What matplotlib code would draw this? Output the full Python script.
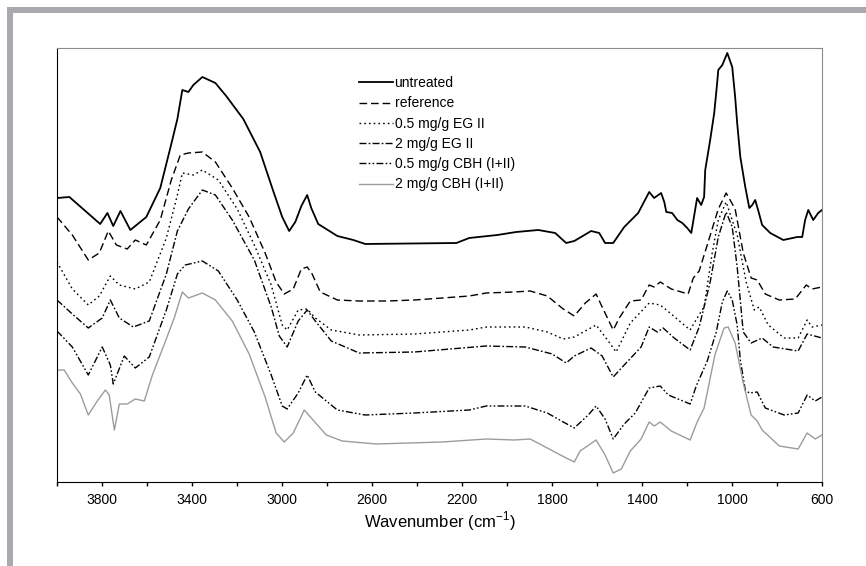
import matplotlib
matplotlib.use('Agg')
import matplotlib.pyplot as plt
from matplotlib.patches import Rectangle

plt.rcParams['font.family'] = ['Liberation Sans', 'DejaVu Sans']
plt.rcParams['mathtext.fontset'] = 'custom'
plt.rcParams['mathtext.rm'] = 'Liberation Sans'

# FTIR spectra, intensity in arbitrary units (curves offset for display)
wn_untreated = [4000, 3945, 3808, 3776, 3750, 3718, 3674, 3603, 3541, 3492, 3465, 3443, 3416, 3394,
                3354, 3296, 3248, 3172, 3097, 3039, 2999, 2968, 2941, 2914, 2888, 2870, 2839, 2754,
                2683, 2630, 2225, 2168, 2043, 1959, 1861, 1786, 1737, 1701, 1626, 1590, 1564, 1528,
                1479, 1417, 1368, 1346, 1315, 1301, 1292, 1266, 1243, 1221, 1199, 1181, 1155, 1137,
                1124, 1119, 1097, 1079, 1066, 1061, 1043, 1021, 999, 986, 977, 963, 941, 923, 910,
                897, 884, 866, 830, 772, 710, 688, 675, 661, 639, 617, 600]
untreated = [284, 285, 258, 269, 256, 271, 252, 265, 294, 338, 363, 392, 390, 397,
             405, 399, 386, 363, 330, 291, 265, 251, 260, 276, 287, 274, 258, 246,
             242, 238, 239, 244, 247, 250, 252, 249, 239, 241, 251, 249, 239, 239,
             255, 269, 290, 284, 289, 280, 270, 269, 262, 259, 254, 249, 284, 277,
             285, 312, 342, 369, 399, 412, 417, 429, 415, 385, 359, 325, 295, 274, 277,
             282, 272, 257, 249, 242, 245, 245, 262, 272, 262, 269, 272]

wn_reference = [4000, 3932, 3861, 3812, 3772, 3736, 3688, 3652, 3603, 3541, 3492, 3452, 3416, 3354,
                3296, 3221, 3146, 3075, 3026, 2990, 2950, 2914, 2888, 2866, 2830, 2754, 2657, 2532,
                2412, 2288, 2168, 2092, 1968, 1897, 1821, 1750, 1701, 1652, 1604, 1577, 1528, 1501,
                1452, 1404, 1368, 1346, 1319, 1270, 1195, 1172, 1146, 1110, 1061, 1026, 986, 950,
                915, 888, 852, 790, 719, 670, 644, 600]
reference = [265, 247, 222, 229, 251, 237, 233, 242, 237, 262, 302, 327, 329, 330,
             320, 294, 265, 229, 200, 188, 193, 213, 215, 208, 190, 182, 181, 181,
             182, 184, 186, 189, 190, 191, 186, 173, 166, 179, 188, 175, 152, 164,
             181, 182, 197, 195, 200, 193, 188, 204, 211, 237, 273, 289, 273, 229,
             204, 202, 188, 182, 183, 197, 193, 195]

wn_eg05 = [4000, 3932, 3861, 3812, 3763, 3723, 3652, 3590, 3514, 3465, 3443, 3394, 3354, 3283,
           3199, 3123, 3048, 2999, 2977, 2928, 2888, 2852, 2781, 2657, 2412, 2168, 2092, 1919,
           1821, 1750, 1701, 1604, 1550, 1515, 1452, 1368, 1319, 1270, 1186, 1155, 1124, 1088,
           1061, 1026, 977, 937, 901, 879, 839, 768, 706, 666, 644, 600]
eg05 = [220, 193, 177, 186, 206, 197, 193, 200, 244, 287, 309, 307, 312, 302,
        273, 237, 197, 157, 152, 172, 173, 164, 152, 147, 148, 152, 155, 155,
        150, 143, 145, 157, 141, 130, 159, 179, 177, 168, 152, 164, 175, 229,
        262, 280, 247, 200, 172, 175, 157, 144, 144, 162, 155, 157]

wn_eg2 = [4000, 3932, 3861, 3799, 3763, 3723, 3661, 3590, 3514, 3465, 3416, 3354, 3296, 3221,
          3123, 3048, 3012, 2977, 2928, 2888, 2852, 2781, 2657, 2412, 2092, 1919, 1799, 1737,
          1701, 1626, 1577, 1528, 1479, 1404, 1368, 1332, 1306, 1257, 1186, 1146, 1097, 1061,
          1026, 999, 977, 950, 915, 866, 817, 706, 666, 600]
eg2 = [182, 168, 154, 164, 182, 164, 155, 161, 208, 251, 273, 292, 287, 262,
       222, 175, 146, 135, 161, 172, 161, 141, 129, 130, 136, 135, 128, 119,
       126, 134, 126, 105, 117, 135, 155, 150, 154, 144, 132, 155, 200, 245,
       270, 255, 215, 150, 139, 144, 135, 131, 148, 144]

wn_cbh05 = [4000, 3932, 3861, 3799, 3763, 3750, 3701, 3652, 3590, 3514, 3465, 3430, 3354, 3283,
            3199, 3123, 3048, 2999, 2977, 2928, 2888, 2852, 2754, 2630, 2412, 2168, 2092, 1919,
            1821, 1750, 1701, 1639, 1604, 1564, 1528, 1479, 1430, 1368, 1319, 1283, 1186, 1159,
            1110, 1070, 1043, 1021, 999, 977, 963, 941, 923, 888, 852, 768, 706, 666, 630, 600]
cbh05 = [151, 135, 107, 135, 117, 98, 126, 114, 125, 172, 208, 217, 221, 211,
         182, 150, 107, 76, 73, 89, 107, 90, 72, 67, 69, 72, 76, 76,
         69, 60, 54, 67, 76, 63, 43, 58, 69, 94, 96, 87, 78, 96,
         121, 150, 180, 191, 182, 157, 122, 92, 89, 90, 74, 67, 69, 87, 81, 85]

wn_cbh2 = [4000, 3968, 3932, 3896, 3861, 3821, 3785, 3768, 3745, 3723, 3688, 3652, 3612, 3576,
           3528, 3479, 3443, 3416, 3354, 3296, 3221, 3146, 3075, 3026, 2990, 2950, 2901, 2866,
           2803, 2732, 2581, 2288, 2092, 1968, 1897, 1821, 1737, 1701, 1675, 1604, 1564, 1528,
           1492, 1452, 1404, 1368, 1346, 1319, 1270, 1186, 1155, 1124, 1075, 1035, 1017, 986,
           950, 915, 888, 866, 790, 706, 666, 630, 600]
cbh2 = [112, 112, 99, 88, 67, 81, 92, 87, 52, 78, 78, 83, 81, 107,
        135, 164, 190, 184, 189, 182, 161, 128, 85, 49, 40, 49, 72, 63,
        47, 41, 38, 40, 43, 42, 43, 34, 24, 20, 31, 42, 27, 9,
        13, 31, 43, 60, 56, 60, 51, 42, 60, 74, 128, 154, 155, 139,
        99, 67, 61, 52, 36, 33, 49, 43, 47]

tick_pos = list(range(4000, 599, -200))
tick_labels = ['', '3800', '', '3400', '', '3000', '', '2600', '', '2200', '',
               '1800', '', '1400', '', '1000', '', '600']

fig = plt.figure(figsize=(8.66, 5.66), dpi=100)
ax = fig.add_axes([57 / 866, 1 - 482 / 566, 765 / 866, 434 / 566])

# grey frame of the figure panel
fig.patches.append(Rectangle((7 / 866, 1 - 13 / 566), 1, 6 / 566, transform=fig.transFigure,
                             facecolor='#aaaaae', edgecolor='none', zorder=0))
fig.patches.append(Rectangle((7 / 866, 0), 6 / 866, 1 - 7 / 566, transform=fig.transFigure,
                             facecolor='#aaaaae', edgecolor='none', zorder=0))

ax.plot(wn_untreated, untreated, color='black', lw=1.3, label='untreated')
ax.plot(wn_reference, reference, color='black', lw=1.0, ls=(0, (5.5, 2.8)), label='reference')
ax.plot(wn_eg05, eg05, color='black', lw=1.0, ls=(0, (1.2, 2.2)), label='0.5 mg/g EG II')
ax.plot(wn_eg2, eg2, color='black', lw=1.0, ls=(0, (5, 1.6, 1.2, 1.6)), label='2 mg/g EG II')
ax.plot(wn_cbh05, cbh05, color='black', lw=1.0, ls=(0, (5, 1.6, 1.2, 1.6, 1.2, 1.6)),
        label='0.5 mg/g CBH (I+II)')
ax.plot(wn_cbh2, cbh2, color='#9c9c9c', lw=1.0, label='2 mg/g CBH (I+II)')

ax.set_xlim(4000, 600)
ax.set_ylim(0, 434)
ax.set_xticks(tick_pos)
ax.set_xticklabels(tick_labels)
ax.set_yticks([])
ax.tick_params(axis='x', direction='out', length=3, width=1, pad=5, labelsize=10)
ax.set_xlabel(r'Wavenumber (cm$^{\mathrm{-1}}$)', fontsize=12, labelpad=2)

for s in ['top', 'right']:
    ax.spines[s].set_color('#8c8c8c')
for s in ['left', 'bottom']:
    ax.spines[s].set_color('black')

ax.legend(loc='upper left', bbox_to_anchor=(0.395, 0.935), frameon=False, fontsize=10,
          handlelength=2.4, handletextpad=0.15, labelspacing=0.45, borderpad=0, borderaxespad=0)

fig.savefig('out.png', dpi=100)
